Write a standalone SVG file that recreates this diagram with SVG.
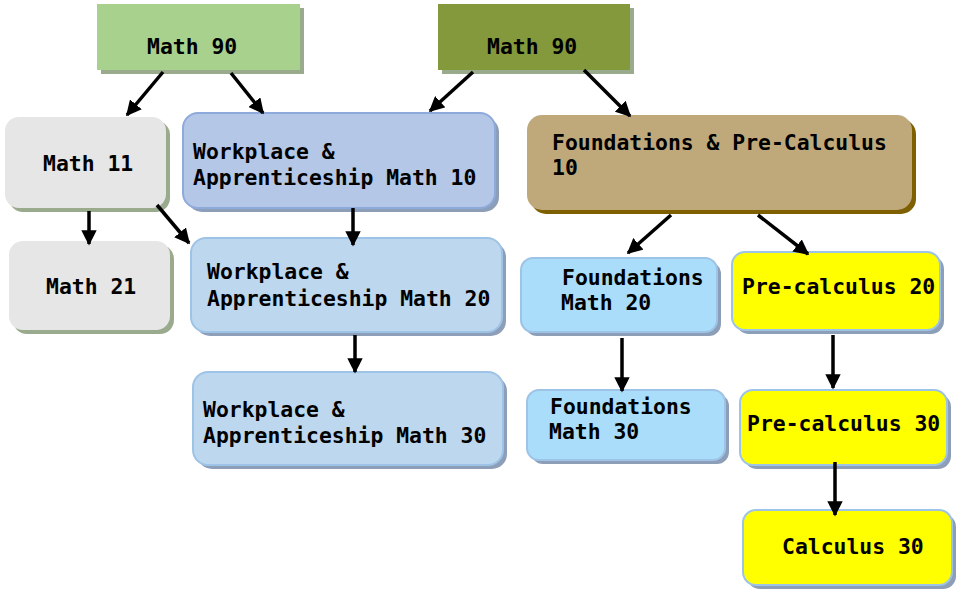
<svg xmlns="http://www.w3.org/2000/svg" width="958" height="593" viewBox="0 0 958 593">
<defs>
<marker id="ah" viewBox="0 0 10 10" refX="9" refY="5" markerWidth="4.4" markerHeight="4.4" orient="auto" markerUnits="strokeWidth">
<path d="M0,0 L10,5 L0,10 z" fill="#000"/>
</marker>
</defs>
<style>
text{font-family:"DejaVu Sans Mono","Liberation Mono",monospace;font-weight:bold;font-size:21.4px;fill:#000}
.c{stroke:#000;stroke-width:3.5;fill:none;marker-end:url(#ah)}
.sh-g{fill:#9aaa8c}
.sh-b{fill:#8d9fb8}
.sh-br{fill:#7f6000}
.bl{stroke:#9dc3e6;stroke-width:2}
</style>
<rect width="958" height="593" fill="#fff"/>

<g id="math90-left">
<rect x="101" y="8" width="203" height="66" class="sh-g"/>
<rect x="97" y="4" width="203" height="66" fill="#a9d18e"/>
<text x="147" y="54">Math 90</text>
</g>
<g id="math90-right">
<rect x="442" y="8" width="192" height="66" class="sh-g"/>
<rect x="438" y="4" width="192" height="66" fill="#84993c"/>
<text x="487" y="54">Math 90</text>
</g>
<g id="math11">
<rect x="9" y="121" width="161" height="91" rx="14" class="sh-g"/>
<rect x="5" y="117" width="161" height="91" rx="14" fill="#e6e6e6"/>
<text x="43" y="171">Math 11</text>
</g>
<g id="math21">
<rect x="13" y="245" width="161" height="89" rx="14" class="sh-g"/>
<rect x="9" y="241" width="161" height="89" rx="14" fill="#e6e6e6"/>
<text x="46" y="294">Math 21</text>
</g>
<g id="wa10">
<rect x="187" y="117" width="312" height="95" rx="15" class="sh-b"/>
<rect x="183" y="113" width="312" height="95" rx="15" fill="#b4c7e7" stroke="#8eaadb" stroke-width="2"/>
<text x="193" y="159">Workplace &amp;<tspan x="193" y="185">Apprenticeship Math 10</tspan></text>
</g>
<g id="wa20">
<rect x="195" y="242" width="311" height="94" rx="15" class="sh-b"/>
<rect x="191" y="238" width="311" height="94" rx="15" fill="#bdd7ee" class="bl"/>
<text x="207" y="279">Workplace &amp;<tspan x="207" y="306">Apprenticeship Math 20</tspan></text>
</g>
<g id="wa30">
<rect x="197" y="376" width="310" height="93" rx="15" class="sh-b"/>
<rect x="193" y="372" width="310" height="93" rx="15" fill="#bdd7ee" class="bl"/>
<text x="203" y="417">Workplace &amp;<tspan x="203" y="443">Apprenticeship Math 30</tspan></text>
</g>
<g id="fpc10">
<rect x="531" y="119" width="385" height="95" rx="15" class="sh-br"/>
<rect x="527" y="115" width="385" height="95" rx="15" fill="#bfa97b"/>
<text x="552" y="150">Foundations &amp; Pre-Calculus<tspan x="552" y="175">10</tspan></text>
</g>
<g id="fm20">
<rect x="525" y="262" width="196" height="74" rx="12" class="sh-b"/>
<rect x="521" y="258" width="196" height="74" rx="12" fill="#a9ddfa" class="bl"/>
<text x="562" y="285">Foundations<tspan x="561" y="310">Math 20</tspan></text>
</g>
<g id="fm30">
<rect x="531" y="394" width="198" height="70" rx="12" class="sh-b"/>
<rect x="527" y="390" width="198" height="70" rx="12" fill="#a9ddfa" class="bl"/>
<text x="550" y="414">Foundations<tspan x="549" y="439">Math 30</tspan></text>
</g>
<g id="pc20">
<rect x="736" y="256" width="208" height="78" rx="13" class="sh-b"/>
<rect x="732" y="252" width="208" height="78" rx="13" fill="#ffff00" class="bl"/>
<text x="742" y="294">Pre-calculus 20</text>
</g>
<g id="pc30">
<rect x="744" y="394" width="207" height="75" rx="13" class="sh-b"/>
<rect x="740" y="390" width="207" height="75" rx="13" fill="#ffff00" class="bl"/>
<text x="747" y="431">Pre-calculus 30</text>
</g>
<g id="calc30">
<rect x="747" y="514" width="209" height="75" rx="13" class="sh-b"/>
<rect x="743" y="510" width="209" height="75" rx="13" fill="#ffff00" class="bl"/>
<text x="782" y="554">Calculus 30</text>
</g>

<g id="connectors">
<line x1="163" y1="72" x2="127" y2="115" class="c"/>
<line x1="231" y1="73" x2="263" y2="113" class="c"/>
<line x1="473" y1="72" x2="430" y2="111" class="c"/>
<line x1="584" y1="70" x2="630" y2="116" class="c"/>
<line x1="89" y1="211" x2="89" y2="244" class="c"/>
<line x1="157" y1="205" x2="189" y2="243" class="c"/>
<line x1="353" y1="208" x2="353" y2="245" class="c"/>
<line x1="355" y1="335" x2="355" y2="372" class="c"/>
<line x1="671" y1="215" x2="628" y2="253" class="c"/>
<line x1="758" y1="215" x2="808" y2="254" class="c"/>
<line x1="622" y1="338" x2="622" y2="391" class="c"/>
<line x1="833" y1="335" x2="833" y2="388" class="c"/>
<line x1="835" y1="462" x2="835" y2="515" class="c"/>
</g>
</svg>
